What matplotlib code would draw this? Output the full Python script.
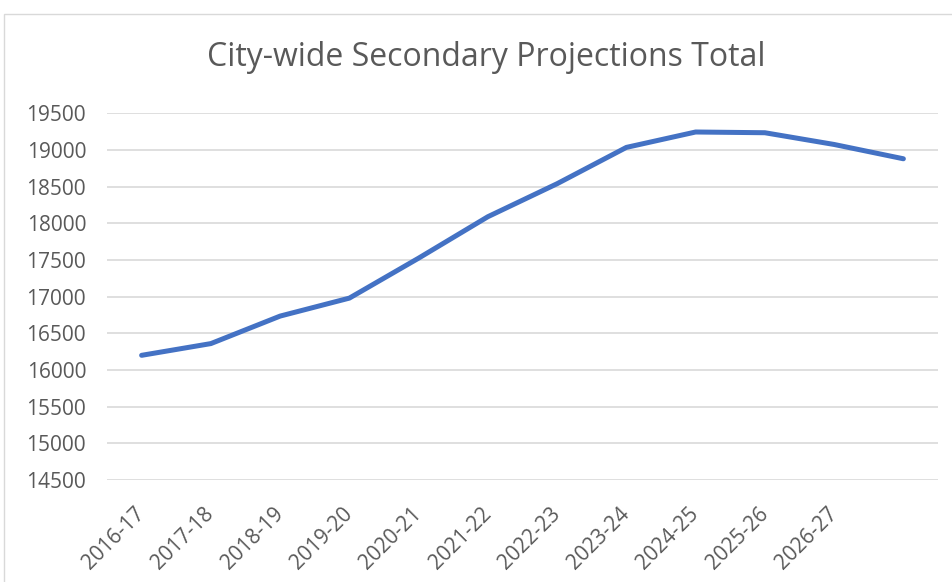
import matplotlib.pyplot as plt
from matplotlib.patches import Rectangle

plt.rcParams['font.family'] = ['Open Sans', 'DejaVu Sans']

# school years (last point has no label on the axis)
years = ['2016-17', '2017-18', '2018-19', '2019-20', '2020-21', '2021-22',
         '2022-23', '2023-24', '2024-25', '2025-26', '2026-27', '']
totals = [16200, 16360, 16735, 16980, 17525, 18090,
          18540, 19035, 19245, 19235, 19075, 18880]
yticks = [14500, 15000, 15500, 16000, 16500, 17000, 17500, 18000, 18500, 19000, 19500]

grey = '#595959'

fig = plt.figure(figsize=(9.53, 5.82), dpi=100)
fig.patches.append(Rectangle((4 / 953, -0.1), 1.1, 1.1 - 14 / 582, transform=fig.transFigure,
                             fill=False, edgecolor='#D9D9D9', lw=1))

ax = fig.add_axes([107 / 953, 1 - 480 / 582, (938 - 107) / 953, (480 - 113.3) / 582])
x = list(range(len(totals)))
ax.plot(x, totals, color='#4472C4', lw=3.6, solid_capstyle='round', solid_joinstyle='round', zorder=3)

ax.set_xlim(-0.5, len(totals) - 0.5)
ax.set_ylim(14500, 19500)
ax.set_yticks(yticks)
ax.set_yticklabels([str(v) for v in yticks], color=grey, fontsize=15)
ax.set_xticks(x)
ax.set_xticklabels(years, color=grey, fontsize=15, rotation=45, ha='right',
                   va='center', rotation_mode='anchor')
ax.tick_params(length=0)
ax.tick_params(axis='y', pad=15)
ax.tick_params(axis='x', pad=22)
ax.grid(axis='y', color='#D9D9D9', lw=1.2)
ax.set_axisbelow(True)
for s in ax.spines.values():
    s.set_visible(False)

fig.text(0.51, 1 - 58 / 582, 'City-wide Secondary Projections Total', ha='center', va='center',
         color=grey, fontsize=23)

fig.savefig('out.png', dpi=100)
